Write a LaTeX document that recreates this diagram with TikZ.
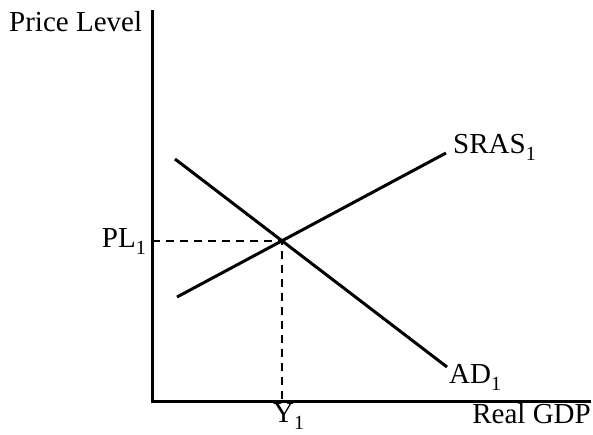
\documentclass[tikz,border=0pt]{standalone}
\usepackage{fontspec}
\setmainfont{Liberation Serif}
\newcommand{\subone}{\raisebox{-0.27em}{\fontsize{20}{20}\selectfont 1}}
\begin{document}
\begin{tikzpicture}[x=1pt,y=-1pt,
  lbl/.style={inner sep=0pt, font=\fontsize{29}{34}\selectfont},
  axis/.style={line width=3pt},
  curve/.style={line width=3pt},
  guide/.style={line width=1.4pt, dash pattern=on 8pt off 6pt}]
\useasboundingbox (0,0) rectangle (593,434);
\coordinate (top) at (152,10);
\coordinate (origin) at (152,401);
\coordinate (xend) at (591,401);
\coordinate (s1) at (177,297);
\coordinate (s2) at (446,153);
\coordinate (a1) at (175,159);
\coordinate (a2) at (447,367);
\coordinate (E) at (282,241);
\coordinate (Ey) at (152,241);
\coordinate (Ex) at (282,401);
\draw[axis] (top) -- (origin) -- (xend);
\draw[curve] (s1) -- (s2);
\draw[curve] (a1) -- (a2);
\draw[guide] (Ey) -- (E) -- (Ex);
\node[lbl, anchor=base west] (pl) at (9,31) {Price Level};
\node[lbl, anchor=base east] (pl1) at (146,247) {PL\subone};
\node[lbl, anchor=base west] (y1) at (273,422) {Y\subone};
\node[lbl, anchor=base east] (gdp) at (591,423) {Real GDP};
\node[lbl, anchor=base west] (sras) at (453,153) {SRAS\subone};
\node[lbl, anchor=base west] (ad) at (449,383) {AD\subone};
\end{tikzpicture}
\end{document}
